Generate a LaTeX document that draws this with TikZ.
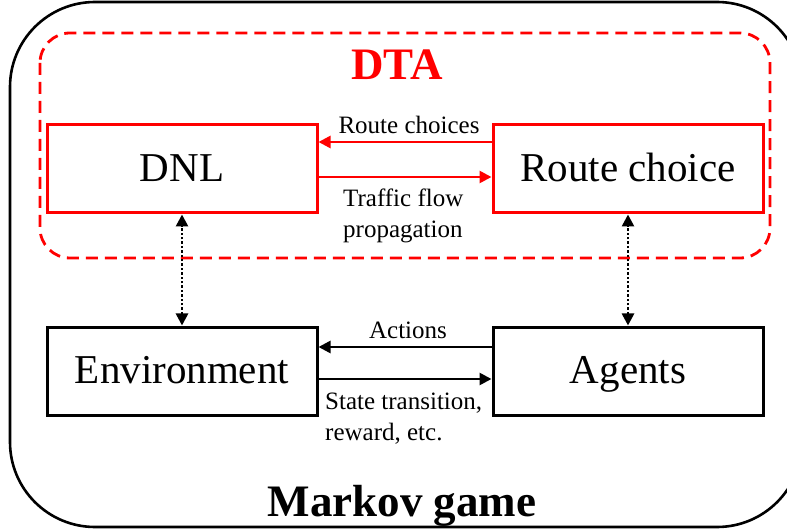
\documentclass[tikz,border=0pt]{standalone}
\usepackage{fontspec}
\setmainfont{Liberation Serif}
\usetikzlibrary{arrows.meta}
\tikzset{
  boxbase/.style={line width=3pt, minimum width=270pt, minimum height=88pt, inner sep=0pt, text height=32pt, text depth=7pt, font=\fontsize{41}{45}\selectfont},
  boxred/.style={boxbase, draw=red},
  boxblk/.style={boxbase, draw=black},
  lbl/.style={inner sep=0pt, font=\fontsize{25}{31}\selectfont, align=left},
  arr/.style={line width=2.6pt, -{Triangle[length=12pt,width=12pt]}},
  dotarr/.style={line width=2.6pt, dash pattern=on 2.4pt off 2pt, {Triangle[length=12pt,width=12pt]}-{Triangle[length=12pt,width=12pt]}},
}
\begin{document}
\begin{tikzpicture}[x=1pt,y=-1pt]
\useasboundingbox (0,0) rectangle (787,529);
\begin{scope}
\clip (0,0) rectangle (787,529);
\draw[line width=2.6pt, rounded corners=85pt] (10,2) rectangle (802,527);
\end{scope}
\draw[red, line width=2.8pt, dash pattern=on 12pt off 7pt, rounded corners=30pt] (40,33) rectangle (770,258);
\node[text=red, font=\bfseries\fontsize{45}{50}\selectfont, anchor=base] (dta) at (397,80) {DTA};
\node[font=\bfseries\fontsize{45}{50}\selectfont, anchor=base] (mg) at (402,516) {Markov game};

\node[boxred] (dnl) at (182,169) {DNL};
\node[boxred] (rc) at (628,169) {Route choice};
\node[boxblk] (env) at (182,371) {Environment};
\node[boxblk] (ag) at (628,371) {Agents};

\draw[arr, red] (rc.west |- 0,142) -- (dnl.east |- 0,142);
\draw[arr, red] (dnl.east |- 0,177) -- (rc.west |- 0,177);
\draw[arr] (ag.west |- 0,347) -- (env.east |- 0,347);
\draw[arr] (env.east |- 0,379) -- (ag.west |- 0,379);

\draw[dotarr] (env.north) -- (dnl.south);
\draw[dotarr] (ag.north) -- (rc.south);

\node[lbl, anchor=base] (lrc) at (409,134) {Route choices};
\node[lbl, anchor=north west] (ltf) at (343,189) {Traffic flow\\propagation};
\node[lbl, anchor=base] (lact) at (408,338) {Actions};
\node[lbl, anchor=north west] (lst) at (325,393) {State transition,\\reward, etc.};
\end{tikzpicture}
\end{document}
